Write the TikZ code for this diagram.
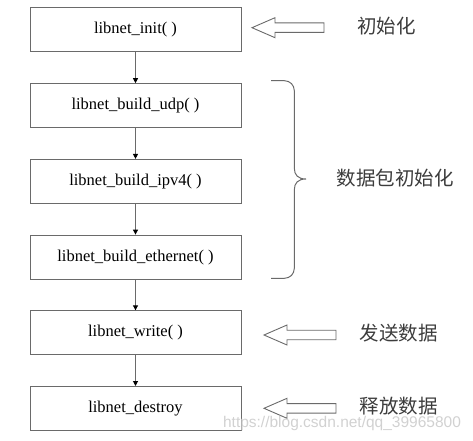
\documentclass[tikz,border=0pt]{standalone}
\usepackage{fontspec}
\setmainfont{Liberation Serif}
\newfontfamily\hei{Noto Sans CJK SC}
\newfontfamily\marca{Liberation Sans}
\usetikzlibrary{arrows.meta}
\definecolor{traco}{HTML}{6A6A6A}
\definecolor{rotulo}{HTML}{3C3C3C}

\begin{document}
\begin{tikzpicture}[x=1pt,y=1pt,
  caixa/.style={draw=traco, line width=1pt, minimum width=211pt, minimum height=44pt, inner sep=0pt, font=\fontsize{16.5}{18}\selectfont},
  oco/.style={draw=traco, line width=0.9pt, line join=miter},
  nota/.style={font=\hei\fontsize{19.5}{22}\selectfont, text=rotulo},
  passo/.style={draw=traco, line width=1pt, -{Triangle[length=5pt,width=5pt,color=black]}}]
\useasboundingbox (0,0) rectangle (473,440);
% 流程框
\foreach \i/\t in {0/libnet\_init( ),1/libnet\_build\_udp( ),2/libnet\_build\_ipv4( ),3/libnet\_build\_ethernet( ),4/libnet\_write( ),5/libnet\_destroy}
  \node[caixa] (p\i) at (135.5,410-75.7*\i) {\t};
\foreach \a/\b in {0/1,1/2,2/3,3/4,4/5} \draw[passo] (p\a) -- (p\b);
% 大括号
\draw[traco, line width=1pt] (271,359.3) -- (284.3,359.3) .. controls (290,359.3) and (294.3,355) .. (294.3,349.3)
  -- (294.3,272) .. controls (294.3,265) and (298,261) .. (306,261)
  .. controls (298,261) and (294.3,257) .. (294.3,250)
  -- (294.3,171.7) .. controls (294.3,166) and (290,161.7) .. (284.3,161.7) -- (271,161.7);
% 空心箭头
\foreach \x/\y in {252/412.3,264/105,264/31.7}
  \draw[oco] (\x,\y) -- ++(23,10) -- ++(0,-5.25) -- ++(49,0) -- ++(0,-9.5) -- ++(-49,0) -- ++(0,-5.25) -- cycle;
% 说明
\node[nota] (n1) at (386.5,414) {初始化};
\node[nota] (n2) at (395,261.5) {数据包初始化};
\node[nota] (n3) at (398.5,107) {发送数据};
\node[nota] (n4) at (398.5,34) {释放数据};
\node[font=\marca\fontsize{15.5}{17}\selectfont, text=black!18] (wm) at (342,17) {https://blog.csdn.net/qq\_39965800};
\end{tikzpicture}
\end{document}
